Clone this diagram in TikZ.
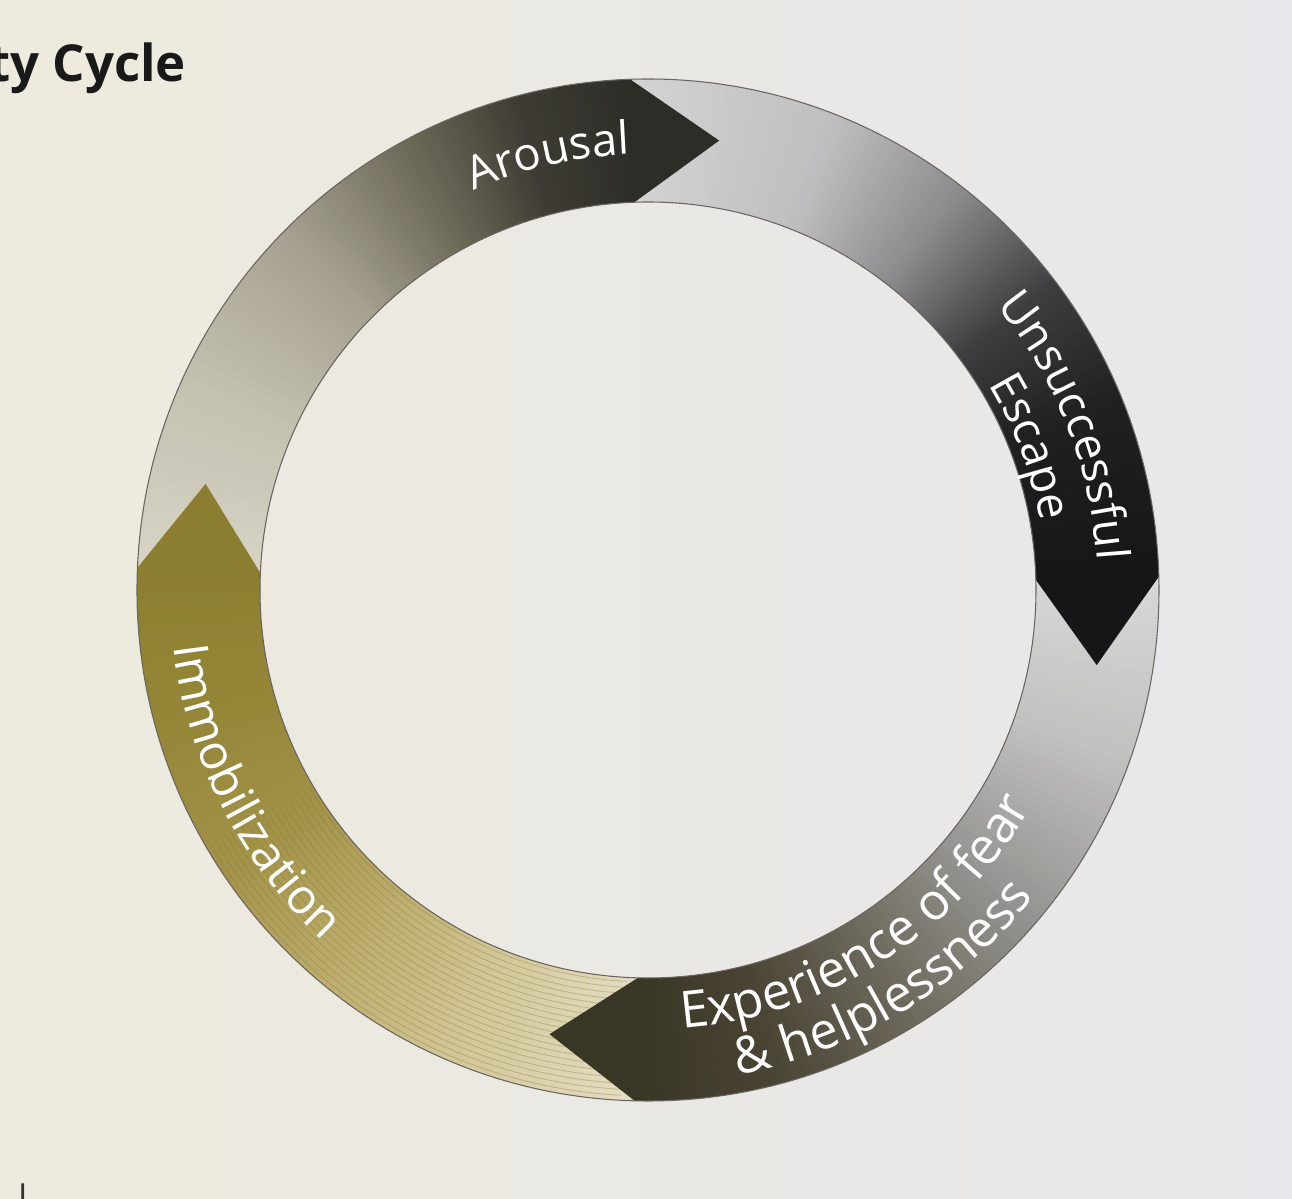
\documentclass[tikz,border=0pt]{standalone}
\usepackage{fontspec}
\setmainfont{Open Sans}
\newfontfamily\lblfam{Open Sans}
\usetikzlibrary{decorations.text}
\definecolor{paperL}{RGB}{238,234,221}
\definecolor{paperR}{RGB}{231,231,235}
\definecolor{ringline}{RGB}{105,100,96}
\definecolor{stripe}{RGB}{140,120,50}
% Arousal
\definecolor{aA}{RGB}{215,212,198}\definecolor{aB}{RGB}{196,192,176}
\definecolor{aC}{RGB}{165,160,142}\definecolor{aD}{RGB}{108,104,88}
\definecolor{aE}{RGB}{62,60,52}\definecolor{aF}{RGB}{45,45,40}
% Unsuccessful escape
\definecolor{uA}{RGB}{212,212,212}\definecolor{uB}{RGB}{190,190,191}
\definecolor{uC}{RGB}{140,140,142}\definecolor{uD}{RGB}{62,62,64}
\definecolor{uE}{RGB}{32,32,34}\definecolor{uF}{RGB}{22,22,25}
% Experience
\definecolor{eA}{RGB}{216,216,216}\definecolor{eB}{RGB}{192,192,191}
\definecolor{eC}{RGB}{150,149,146}\definecolor{eD}{RGB}{105,101,88}
\definecolor{eE}{RGB}{72,67,50}\definecolor{eF}{RGB}{58,54,38}
% Immobilization
\definecolor{iA}{RGB}{228,222,198}\definecolor{iB}{RGB}{210,199,152}
\definecolor{iC}{RGB}{188,172,108}\definecolor{iD}{RGB}{162,146,72}
\definecolor{iE}{RGB}{150,134,56}\definecolor{iF}{RGB}{140,126,48}
\newcommand\Ro{511}
\newcommand\Ri{388}
\newcommand\Rt{455}
\newcommand\lblA{\lblfam\fontsize{26}{26}\selectfont}
\newcommand\lblB{\lblfam\fontsize{29}{29}\selectfont}
\newcommand\lblC{\lblfam\fontsize{27.5}{27.5}\selectfont}
% #1 start angle, #2 end angle, #3 start colour, #4 end colour, #5 clamp (20 = no overlap at end, 21 = overlap)
\newcommand\gradarc[5]{%
  \foreach \k in {0,...,19}{%
    \pgfmathsetmacro\sa{#1+(#2-#1)*\k/20}%
    \pgfmathsetmacro\sb{#1+(#2-#1)*min(\k+1.3,#5)/20}%
    \pgfmathsetmacro\pc{100*(\k+0.5)/20}%
    \fill[#4!\pc!#3] (\sa:\Ro) arc[start angle=\sa,end angle=\sb,radius=\Ro]
      -- (\sb:\Ri) arc[start angle=\sb,end angle=\sa,radius=\Ri] -- cycle;
  }%
}
\newcommand\tipfill[2]{%
  \pgfmathsetmacro\ta{#1-11}%
  \pgfmathsetmacro\tb{#1+0.7}%
  \fill[#2] (\tb:\Ro) arc[start angle=\tb,end angle=#1,radius=\Ro] -- (\ta:\Rt) -- (#1:\Ri)
     arc[start angle=#1,end angle=\tb,radius=\Ri] -- cycle;
}
\tikzset{
  ringtext/.style 2 args={decorate,decoration={text along path,text={|#1|#2},text align=center,text color=white}},
  titletext/.style={font=\bfseries\fontsize{29}{29}\selectfont,text=black!90,inner sep=0pt}
}
\begin{document}
\begin{tikzpicture}[x=0.02cm,y=0.02cm]
\useasboundingbox (-648,-609) rectangle (644,590);
\shade[left color=paperL,right color=paperR] (-648,-609) rectangle (644,590);

% Arousal band
\gradarc{177.5}{155}{aA}{aB}{21}
\gradarc{155}{135}{aB}{aC}{21}
\gradarc{135}{118}{aC}{aD}{21}
\gradarc{118}{105}{aD}{aE}{21}
\gradarc{105}{92}{aE}{aF}{20}
% Unsuccessful escape band
\gradarc{92}{68}{uA}{uB}{21}
\gradarc{68}{52}{uB}{uC}{21}
\gradarc{52}{37}{uC}{uD}{21}
\gradarc{37}{22}{uD}{uE}{21}
\gradarc{22}{1.5}{uE}{uF}{20}
% Experience band
\gradarc{1.5}{-20}{eA}{eB}{21}
\gradarc{-20}{-40}{eB}{eC}{21}
\gradarc{-40}{-60}{eC}{eD}{21}
\gradarc{-60}{-76}{eD}{eE}{21}
\gradarc{-76}{-91.5}{eE}{eF}{20}
% Immobilization band
\gradarc{-91.5}{-112}{iA}{iB}{21}
\gradarc{-112}{-130}{iB}{iC}{21}
\gradarc{-130}{-147}{iC}{iD}{21}
\gradarc{-147}{-164}{iD}{iE}{21}
\gradarc{-164}{-182.5}{iE}{iF}{20}

% fine stripes in the light part of the Immobilization band
\foreach \r in {392,398,...,508}{
  \draw[stripe,line width=0.5pt,opacity=0.35] (-93:\r) arc[start angle=-93,end angle=-150,radius=\r];
}

% arrow tips
\tipfill{92}{aF}
\tipfill{1.5}{uF}
\tipfill{-91.5}{eF}
\tipfill{177.5}{iF}

% ring outlines
\draw[ringline,line width=0.6pt] (0,0) circle[radius=\Ro];
\draw[ringline,line width=0.6pt] (0,0) circle[radius=\Ri];

% labels along the ring
\path[ringtext={\lblA}{Arousal}] (140:436) arc[start angle=140,end angle=66,radius=436];
\path[ringtext={\lblA}{Unsuccessful}] (61.5:450) arc[start angle=61.5,end angle=-18.5,radius=450];
\path[ringtext={\lblA}{Escape}] (60.5:398) arc[start angle=60.5,end angle=-19.5,radius=398];
\path[ringtext={\lblB}{Experience of fear}] (-102.5:440) arc[start angle=-102.5,end angle=-12.5,radius=440];
\path[ringtext={\lblB}{{\&} helplessness}] (-104:493) arc[start angle=-104,end angle=-14,radius=493];
\path[ringtext={\lblC}{Immobilization}] (162:478) arc[start angle=162,end angle=252,radius=478];

% page fragments
\node[titletext,anchor=base west] (title) at (-660,508) {ty Cycle};
\node[anchor=north west,inner sep=0pt,font=\fontsize{20}{20}\selectfont,text=black!80] (frag) at (-630,-593) {l};
\end{tikzpicture}
\end{document}
